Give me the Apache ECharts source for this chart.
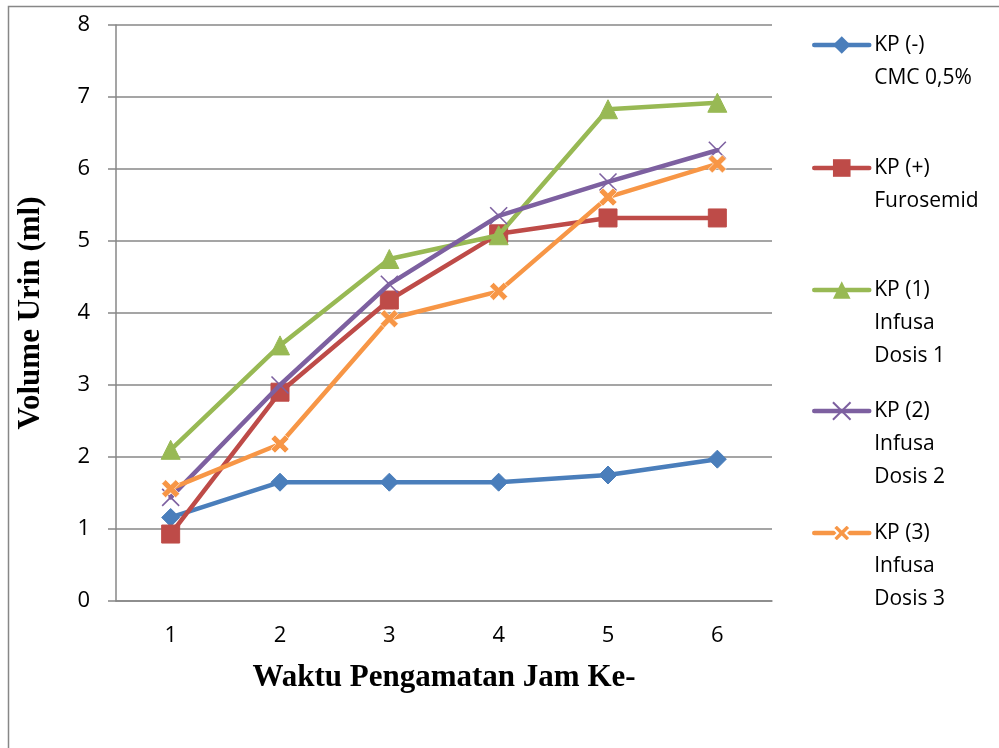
<!DOCTYPE html>
<html>
<head>
<meta charset="utf-8">
<script src="https://cdn.jsdelivr.net/npm/echarts@6/dist/echarts.min.js"></script>
<style>
  html, body { margin: 0; padding: 0; background: #fff; }
  #chart { width: 999px; height: 748px; }
</style>
</head>
<body>
<div id="chart"></div>
<script>
// Observation hours
const categories = ['1', '2', '3', '4', '5', '6'];

// Urine volume (ml) per group
const kpNeg   = [1.16, 1.65, 1.65, 1.65, 1.75, 1.97];
const kpPos   = [0.93, 2.90, 4.18, 5.10, 5.32, 5.32];
const kpDose1 = [2.10, 3.55, 4.75, 5.08, 6.83, 6.92];
const kpDose2 = [1.44, 3.00, 4.40, 5.35, 5.82, 6.26];
const kpDose3 = [1.56, 2.18, 3.92, 4.30, 5.61, 6.07];

const seriesNames = [
  'KP (-)\nCMC 0,5%',
  'KP (+)\nFurosemid',
  'KP (1)\nInfusa\nDosis 1',
  'KP (2)\nInfusa\nDosis 2',
  'KP (3)\nInfusa\nDosis 3'
];

const yTicks = { min: 0, max: 8, interval: 1 };

const colors = ['#4A7EBB', '#BE4B48', '#98B954', '#7D60A0', '#F79646'];

const thinCross = 'path://M0,0L10,10M10,0L0,10';
const boldCross = 'path://M0,2.2L2.2,0L5,2.8L7.8,0L10,2.2L7.2,5L10,7.8L7.8,10L5,7.2L2.2,10L0,7.8L2.8,5Z';

const markers = [
  { symbol: 'diamond', size: 18, style: {} },
  { symbol: 'rect', size: 18, style: {} },
  { symbol: 'triangle', size: 19, style: {} },
  { symbol: thinCross, size: 17, style: { borderWidth: 1.6 } },
  { symbol: boldCross, size: 18, style: { borderColor: '#fff', borderWidth: 0.6 } }
];

const seriesData = [kpNeg, kpPos, kpDose1, kpDose2, kpDose3];

const font = '"Open Sans", "Noto Sans", sans-serif';
const serif = '"Liberation Serif", "DejaVu Serif", serif';
const gridColor = '#878787';

const series = seriesData.map((values, i) => ({
  name: seriesNames[i],
  type: 'line',
  data: values,
  symbol: markers[i].symbol,
  symbolSize: markers[i].size,
  showAllSymbol: true,
  animation: false,
  lineStyle: { color: colors[i], width: 4.5, cap: 'round', join: 'round' },
  itemStyle: Object.assign({ color: colors[i], borderColor: colors[i], opacity: 1 }, markers[i].style),
  emphasis: { disabled: true },
  z: 2 + i
}));

// Legend entries: icon aligned with the first text line
const legendCentres = [45, 168, 290, 411, 533];
const lineH = 33;
const legends = seriesNames.map((name, i) => {
  const n = name.split('\n').length;
  const total = 2 * n - 1;
  return {
    data: [name],
    orient: 'vertical',
    left: 812,
    top: legendCentres[i] - total * lineH / 2,
    padding: 0,
    itemWidth: 55,
    itemHeight: 22,
    itemGap: 0,
    selectedMode: false,
    lineStyle: { width: 4.5, cap: 'round' },
    formatter: (nm) => '\n'.repeat(n - 1) + nm,
    textStyle: { fontFamily: font, fontSize: 21, color: '#000', lineHeight: lineH }
  };
});

const chart = echarts.init(document.getElementById('chart'), null, { renderer: 'canvas' });
chart.setOption({
  animation: false,
  backgroundColor: '#fff',
  color: colors,
  graphic: [{
    type: 'rect',
    shape: { x: 8.5, y: 6.5, width: 1100, height: 900 },
    style: { fill: 'none', stroke: gridColor, lineWidth: 1.5 },
    silent: true,
    z: -10
  }],
  grid: { left: 116, right: 227, top: 25, bottom: 147, containLabel: false },
  legend: legends,
  xAxis: {
    type: 'category',
    data: categories,
    boundaryGap: true,
    name: 'Waktu Pengamatan Jam Ke-',
    nameLocation: 'middle',
    nameGap: 61,
    nameTextStyle: { fontFamily: serif, fontWeight: 'bold', fontSize: 31, color: '#000' },
    axisLine: { show: true, lineStyle: { color: gridColor, width: 1.5 } },
    axisTick: { show: false },
    axisLabel: { fontFamily: font, fontSize: 22, color: '#000', margin: 24 },
    splitLine: { show: false }
  },
  yAxis: {
    type: 'value',
    min: yTicks.min,
    max: yTicks.max,
    interval: yTicks.interval,
    name: 'Volume Urin (ml)',
    nameLocation: 'middle',
    nameRotate: 90,
    nameGap: 70,
    nameTextStyle: { fontFamily: serif, fontWeight: 'bold', fontSize: 31, color: '#000' },
    axisLine: { show: true, lineStyle: { color: gridColor, width: 1.5 } },
    axisTick: { show: true, inside: false, length: 8, lineStyle: { color: gridColor, width: 1.5 } },
    axisLabel: { fontFamily: font, fontSize: 22, color: '#000', margin: 26 },
    splitLine: { show: true, lineStyle: { color: gridColor, width: 1.5 } }
  },
  series: series
});
</script>
</body>
</html>
